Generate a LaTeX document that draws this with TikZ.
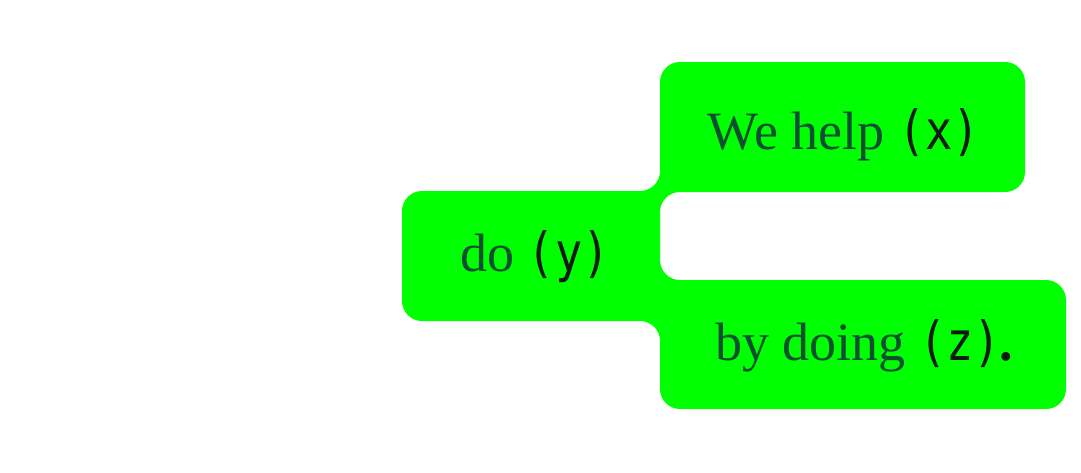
\documentclass[tikz,border=0pt]{standalone}
\usepackage{fontspec}
\setmainfont{Liberation Serif}
\newfontfamily\codefont[FakeStretch=0.84]{DejaVu Sans Mono}
\usepackage{tikz}
\usetikzlibrary{positioning}
\definecolor{signalgreen}{HTML}{00FF00}
\definecolor{pinegreen}{HTML}{0D4F33}
\definecolor{codeink}{HTML}{0C1A10}
\newcommand{\pitchslot}[1]{{\codefont\fontsize{54}{58}\selectfont\color{codeink}(#1)}}
\tikzset{
  pitchblock/.style={
    fill=#1, rounded corners=20pt
  },
  pitchblock/.default=signalgreen,
  pitchtext/.style={
    font=\fontsize{54}{60}\selectfont, text=pinegreen,
    inner sep=0pt, anchor=base
  },
}

\begin{document}
\begin{tikzpicture}[x=1pt, y=-1pt]
  \useasboundingbox (0,0) rectangle (1081,472);
  % one merged green shape for the three blocks
  \fill[pitchblock]
    (402,191) -- (660,191) -- (660,62) -- (1025,62) -- (1025,192)
    -- (660,192) -- (660,280) -- (1066,280) -- (1066,409)
    -- (660,409) -- (660,321) -- (402,321) -- cycle;
  \node[pitchtext] (help)   at (844,149) {We help \pitchslot{x}};
  \node[pitchtext] (goal)   at (535,271) {do \pitchslot{y}};
  \node[pitchtext] (method) at (864,360) {by doing \pitchslot{z}\kern-2pt{\color{codeink}\bfseries.}};
\end{tikzpicture}
\end{document}
